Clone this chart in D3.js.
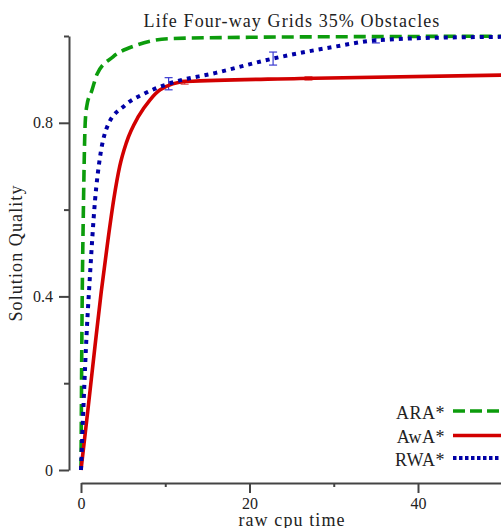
<!DOCTYPE html>
<meta charset="utf-8">
<style>
body { margin: 0; background: #fff; }
svg text { font-family: "Liberation Serif", serif; fill: #222; }
.axis path, .axis line { stroke: #444; stroke-width: 2px; }
.axis text { font-size: 16px; }
.series { fill: none; }
.err { stroke-width: 1.2px; fill: none; }
</style>
<svg width="501" height="528"></svg>
<script src="https://d3js.org/d3.v7.min.js"></script>
<script>

// ARA* (green dashed)
const araTime    = [0, 0.1, 0.3, 0.5, 0.7, 1.3, 1.9, 3.8, 6.6, 10.6, 20, 40, 60];
const araQuality = [0, 0.30, 0.62, 0.80, 0.84, 0.875, 0.912, 0.952, 0.979, 0.994, 0.997, 0.999, 1.0];

// AwA* (red solid)
const awaTime    = [0, 0.8, 1.66, 2.4, 3.2, 3.9, 4.6, 5.4, 6.8, 8.2, 9.4, 12.5, 26, 50, 60];
const awaQuality = [0, 0.135, 0.285, 0.41, 0.53, 0.625, 0.70, 0.755, 0.814, 0.853, 0.876, 0.895, 0.902, 0.910, 0.912];

// RWA* (blue dotted)
const rwaTime    = [0, 0.3, 0.67, 1.07, 1.66, 2.25, 3.2, 5.2, 7.6, 10.4, 16, 22.8, 30, 35, 45, 60];
const rwaQuality = [0, 0.15, 0.315, 0.45, 0.62, 0.72, 0.795, 0.84, 0.868, 0.89, 0.915, 0.948, 0.975, 0.99, 0.997, 0.999];

// error bars
const rwaErrTime = [10.4, 22.8, 35];
const rwaErrHalf = [0.014, 0.015, 0.006];
const awaErrTime = [12.3, 27];
const awaErrHalf = [0.005, 0.004];

const xMajor = [0, 20, 40];
const xMinor = [10, 30];
const yMajor = [0, 0.4, 0.8];
const yMinor = [0.2, 0.6, 1.0];

const legendLabels = ['ARA*', 'AwA*', 'RWA*'];

const title = 'Life Four-way Grids 35% Obstacles';
const xLabel = 'raw cpu time';
const yLabel = 'Solution Quality';

const svg = d3.select('svg');

const x = d3.scaleLinear().domain([0, 60]).range([81, 586.5]);
const y = d3.scaleLinear().domain([0, 1]).range([470, 36]);

// axes
svg.append('g').attr('class', 'axis')
  .attr('transform', 'translate(0,483)')
  .call(d3.axisBottom(x).tickValues(xMajor).tickSize(10).tickSizeOuter(0)
    .tickPadding(5).tickFormat(d3.format('d')));
svg.append('g').attr('class', 'axis')
  .attr('transform', 'translate(0,483)')
  .call(d3.axisBottom(x).tickValues(xMinor).tickSize(4).tickFormat(''))
  .select('.domain').remove();

svg.append('g').attr('class', 'axis')
  .attr('transform', 'translate(69,0)')
  .call(d3.axisLeft(y).tickValues(yMajor).tickSize(10).tickSizeOuter(0)
    .tickPadding(6).tickFormat(d => d === 0 ? '0' : d3.format('.1f')(d)));
svg.append('g').attr('class', 'axis')
  .attr('transform', 'translate(69,0)')
  .call(d3.axisLeft(y).tickValues(yMinor).tickSize(5).tickFormat(''))
  .select('.domain').remove();

svg.selectAll('.axis text')
  .style('font-family', '"Liberation Serif", serif')
  .attr('fill', '#222');

// series
const series = [
  { t: araTime, q: araQuality, color: '#0c9c0c', width: 3.6, dash: '12,6', legendDash: '12,5' },
  { t: awaTime, q: awaQuality, color: '#d20000', width: 3.6, dash: null, legendDash: null },
  { t: rwaTime, q: rwaQuality, color: '#0000a6', width: 4, dash: '4,5', legendDash: '3.5,2.5' }
];

const line = d3.line()
  .x(d => x(d[0]))
  .y(d => y(d[1]))
  .curve(d3.curveMonotoneX);

// error bars drawn under the lines
function errorBars(times, halves, tArr, qArr, color) {
  const interp = t => {
    const i = d3.bisectLeft(tArr, t);
    const t0 = tArr[i - 1], t1 = tArr[i];
    return qArr[i - 1] + (qArr[i] - qArr[i - 1]) * (t - t0) / (t1 - t0);
  };
  const g = svg.append('g').attr('class', 'err').attr('stroke', color);
  times.forEach((t, i) => {
    const q = interp(t);
    const cx = x(t), y0 = y(q - halves[i]), y1 = y(q + halves[i]);
    g.append('line').attr('x1', cx).attr('x2', cx).attr('y1', y0).attr('y2', y1);
    g.append('line').attr('x1', cx - 4).attr('x2', cx + 4).attr('y1', y0).attr('y2', y0);
    g.append('line').attr('x1', cx - 4).attr('x2', cx + 4).attr('y1', y1).attr('y2', y1);
  });
}
errorBars(awaErrTime, awaErrHalf, awaTime, awaQuality, '#e06060');
errorBars(rwaErrTime, rwaErrHalf, rwaTime, rwaQuality, '#3a3ad0');

series.forEach(s => {
  svg.append('path')
    .attr('class', 'series')
    .attr('d', line(s.t.map((t, i) => [t, s.q[i]])))
    .attr('stroke', s.color)
    .attr('stroke-width', s.width)
    .attr('stroke-dasharray', s.dash);
});

// legend
const legendY = [411, 435.5, 458];
series.forEach((s, i) => {
  svg.append('text')
    .attr('x', 445).attr('y', legendY[i] + 7.5)
    .attr('text-anchor', 'end')
    .style('font-size', '18px')
    .style('letter-spacing', '0.5px')
    .text(legendLabels[i]);
  svg.append('line')
    .attr('x1', 453).attr('x2', 530)
    .attr('y1', legendY[i]).attr('y2', legendY[i])
    .attr('stroke', s.color)
    .attr('stroke-width', s.width)
    .attr('stroke-dasharray', s.legendDash);
});

// titles
svg.append('text')
  .attr('x', 292).attr('y', 27)
  .attr('text-anchor', 'middle')
  .style('font-size', '18px')
  .style('letter-spacing', '1.1px')
  .text(title);

svg.append('text')
  .attr('x', 292).attr('y', 526)
  .attr('text-anchor', 'middle')
  .style('font-size', '18px')
  .style('letter-spacing', '1.1px')
  .text(xLabel);

svg.append('text')
  .attr('transform', 'translate(22,253) rotate(-90)')
  .attr('text-anchor', 'middle')
  .style('font-size', '18px')
  .style('letter-spacing', '1.1px')
  .text(yLabel);

</script>
